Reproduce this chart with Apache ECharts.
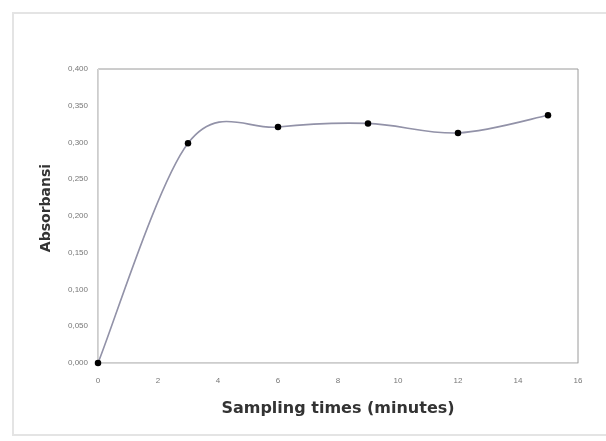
<!DOCTYPE html>
<html>
<head>
<meta charset="utf-8">
<script src="https://cdn.jsdelivr.net/npm/echarts@6/dist/echarts.min.js"></script>
<style>
html,body{margin:0;padding:0;background:#fff;}
#frame{position:absolute;left:12px;top:12px;width:620px;height:424px;border:2px solid #e4e4e4;box-sizing:border-box;}
#chart{position:absolute;left:0;top:0;width:606px;height:441px;}
</style>
</head>
<body>
<div id="frame"></div>
<div id="chart"></div>
<script>
const times = [0, 3, 6, 9, 12, 15];
const absorbance = [0.000, 0.299, 0.321, 0.326, 0.313, 0.337];
const xTitle = 'Sampling times (minutes)';
const yTitle = 'Absorbansi';

const pts = times.map((t, i) => [t, absorbance[i]]);

// Excel-style smoothed line: Catmull-Rom segments rendered through the axes' coordinate system
function renderCurve(params, api) {
  const p = pts.map(d => api.coord(d));
  let path = 'M' + p[0][0] + ' ' + p[0][1];
  for (let i = 0; i < p.length - 1; i++) {
    const p0 = p[Math.max(i - 1, 0)], p1 = p[i], p2 = p[i + 1], p3 = p[Math.min(i + 2, p.length - 1)];
    const c1x = p1[0] + (p2[0] - p0[0]) / 6, c1y = p1[1] + (p2[1] - p0[1]) / 6;
    const c2x = p2[0] - (p3[0] - p1[0]) / 6, c2y = p2[1] - (p3[1] - p1[1]) / 6;
    path += ' C' + c1x + ' ' + c1y + ' ' + c2x + ' ' + c2y + ' ' + p2[0] + ' ' + p2[1];
  }
  return {
    type: 'path',
    shape: {pathData: path},
    style: {fill: 'none', stroke: '#9292a8', lineWidth: 1.6}
  };
}

const chart = echarts.init(document.getElementById('chart'));
chart.setOption({
  animation: false,
  backgroundColor: 'transparent',
  grid: {left: 98, right: 28, top: 69, bottom: 78, show: true, borderColor: '#9a9a9a', borderWidth: 1},
  xAxis: {
    type: 'value', min: 0, max: 16, interval: 2,
    name: xTitle, nameLocation: 'middle', nameGap: 38,
    nameTextStyle: {fontFamily: 'DejaVu Sans', fontWeight: 'bold', fontSize: 16, color: '#333'},
    axisLine: {show: true, lineStyle: {color: '#d8d8d8'}},
    axisTick: {show: false},
    axisLabel: {fontSize: 8, color: '#777', margin: 14, fontFamily: 'Liberation Sans'},
    splitLine: {show: false}
  },
  yAxis: {
    type: 'value', min: 0, max: 0.4, interval: 0.05,
    name: yTitle, nameLocation: 'middle', nameGap: 45,
    nameTextStyle: {fontFamily: 'DejaVu Sans', fontWeight: 'bold', fontSize: 14, color: '#333', padding: [0, 0, 0, 16]},
    axisLine: {show: true, lineStyle: {color: '#d8d8d8'}},
    axisTick: {show: false},
    axisLabel: {fontSize: 8, color: '#777', margin: 10, fontFamily: 'Liberation Sans',
      formatter: v => v.toFixed(3).replace('.', ',')},
    splitLine: {show: false}
  },
  series: [
    {
      type: 'custom',
      data: [[0, 0]],
      renderItem: renderCurve,
      silent: true,
      z: 1
    },
    {
      type: 'scatter',
      data: pts,
      symbol: 'circle', symbolSize: 6.5,
      itemStyle: {color: '#000', opacity: 1},
      z: 3
    }
  ]
});
</script>
</body>
</html>
